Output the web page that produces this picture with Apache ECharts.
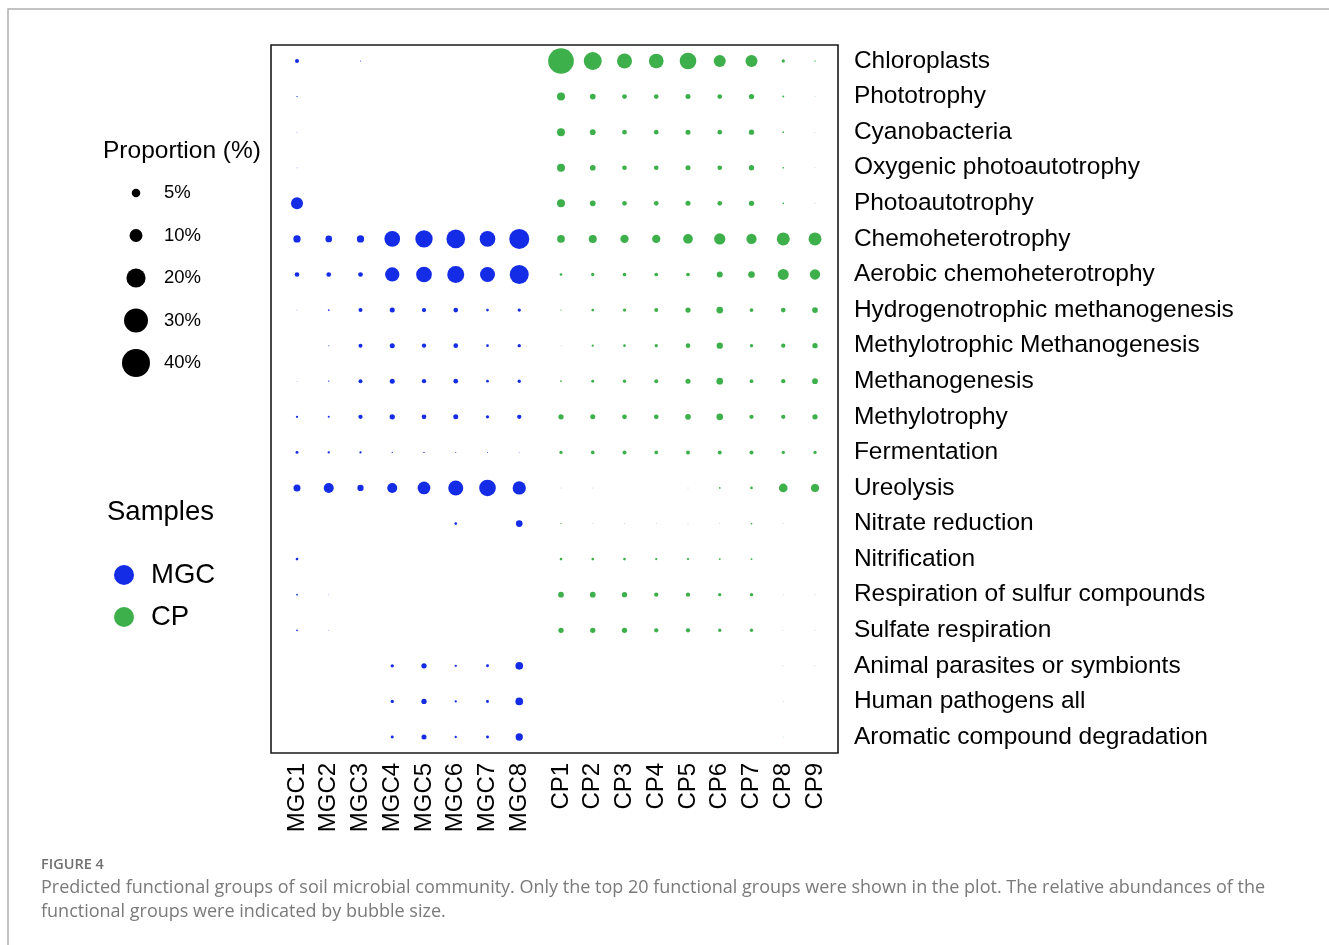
<!DOCTYPE html>
<html>
<head>
<meta charset="utf-8">
<script src="https://cdn.jsdelivr.net/npm/echarts@6/dist/echarts.min.js"></script>
<style>
html,body{margin:0;padding:0;background:#fff;}
#chart{width:1329px;height:945px;}
</style>
</head>
<body>
<div id="chart"></div>
<script>
// ---------- DATA ----------
const functions = [
  'Chloroplasts', 'Phototrophy', 'Cyanobacteria', 'Oxygenic photoautotrophy',
  'Photoautotrophy', 'Chemoheterotrophy', 'Aerobic chemoheterotrophy',
  'Hydrogenotrophic methanogenesis', 'Methylotrophic Methanogenesis', 'Methanogenesis',
  'Methylotrophy', 'Fermentation', 'Ureolysis', 'Nitrate reduction', 'Nitrification',
  'Respiration of sulfur compounds', 'Sulfate respiration', 'Animal parasites or symbionts',
  'Human pathogens all', 'Aromatic compound degradation'
];
const mgcSamples = ['MGC1','MGC2','MGC3','MGC4','MGC5','MGC6','MGC7','MGC8'];
const cpSamples = ['CP1','CP2','CP3','CP4','CP5','CP6','CP7','CP8','CP9'];

// Proportion (%) per functional group (rows follow `functions`), MGC samples
const mgcValues = [
  [1.67, 0, 0.44, 0, 0, 0, 0, 0],
  [0.53, 0, 0, 0, 0, 0, 0, 0],
  [0.3, 0, 0, 0, 0, 0, 0, 0],
  [0.3, 0, 0, 0, 0, 0, 0, 0],
  [8.83, 0, 0, 0, 0, 0, 0, 0],
  [3.94, 3.46, 3.94, 14.0, 16.7, 19.1, 14.0, 21.6],
  [2.07, 2.07, 2.07, 11.9, 14.0, 16.2, 12.96, 19.7],
  [0.3, 0.66, 1.67, 2.26, 1.84, 2.07, 1.04, 1.32],
  [0, 0.44, 1.67, 2.26, 1.84, 2.07, 1.04, 1.32],
  [0.3, 0.53, 1.67, 2.26, 1.84, 2.07, 1.04, 1.32],
  [0.88, 0.76, 1.84, 2.45, 2.07, 2.26, 1.32, 1.84],
  [1.17, 0.88, 0.88, 0.53, 0.53, 0.44, 0.44, 0.3],
  [3.70, 6.51, 3.15, 6.51, 9.72, 12.96, 15.6, 10.5],
  [0, 0, 0, 0, 0, 1.04, 0, 3.46],
  [1.04, 0, 0, 0, 0, 0, 0, 0],
  [0.66, 0.3, 0, 0, 0, 0, 0, 0],
  [0.66, 0.3, 0, 0, 0, 0, 0, 0],
  [0, 0, 0, 1.32, 2.45, 0.88, 1.17, 4.28],
  [0, 0, 0, 1.32, 2.45, 0.88, 1.17, 4.28],
  [0, 0, 0, 1.17, 2.26, 0.88, 1.17, 3.94]
];
// Proportion (%) per functional group, CP samples
const cpValues = [
  [34.1, 17.9, 13.0, 12.5, 15.6, 8.8, 8.8, 1.32, 0.55],
  [4.55, 2.72, 2.07, 2.07, 2.26, 2.07, 2.45, 0.76, 0.3],
  [4.55, 2.72, 2.07, 2.07, 2.26, 2.07, 2.45, 0.66, 0.3],
  [4.55, 2.72, 2.07, 2.07, 2.26, 2.07, 2.45, 0.66, 0.3],
  [4.55, 2.72, 2.07, 2.07, 2.26, 2.07, 2.45, 0.66, 0.3],
  [4.28, 4.55, 4.82, 4.82, 6.19, 7.97, 6.83, 10.1, 10.1],
  [1.04, 1.32, 1.51, 1.51, 1.51, 2.93, 3.46, 7.62, 6.83],
  [0.53, 1.04, 1.32, 1.67, 2.45, 3.46, 1.51, 2.07, 2.72],
  [0.3, 0.88, 1.04, 1.32, 2.07, 3.15, 1.32, 1.84, 2.45],
  [0.66, 1.17, 1.32, 1.67, 2.26, 3.46, 1.51, 1.84, 2.72],
  [2.45, 2.26, 2.07, 2.07, 2.72, 3.46, 1.84, 1.84, 2.45],
  [1.32, 1.51, 1.67, 1.51, 1.67, 1.67, 1.67, 1.32, 1.32],
  [0.3, 0.3, 0, 0, 0.3, 0.66, 1.04, 5.19, 4.55],
  [0.53, 0.3, 0.3, 0.3, 0.3, 0.3, 0.66, 0.3, 0],
  [1.04, 1.04, 1.04, 0.88, 0.88, 0.76, 0.76, 0, 0],
  [2.72, 2.72, 2.45, 1.84, 1.84, 1.32, 1.32, 0.3, 0.3],
  [2.45, 2.45, 2.45, 1.84, 1.84, 1.32, 1.32, 0.3, 0.3],
  [0, 0, 0, 0, 0, 0, 0, 0.3, 0.3],
  [0, 0, 0, 0, 0, 0, 0, 0.3, 0],
  [0, 0, 0, 0, 0, 0, 0, 0.3, 0]
];
const sizeLegendValues = [5, 10, 20, 30, 40];
const sizeLegendLabels = ['5%', '10%', '20%', '30%', '40%'];
const captionTitle = 'FIGURE 4';
const captionLines = [
  'Predicted functional groups of soil microbial community. Only the top 20 functional groups were shown in the plot. The relative abundances of the',
  'functional groups were indicated by bubble size.'
];

// ---------- RENDER ----------
const FONT = '"Liberation Sans", Arial, Helvetica, sans-serif';
const CAPFONT = '"Open Sans", sans-serif';
const BLUE = '#152ce6';
const GREEN = '#3eb04b';

function diam(p) { return 4.77 * Math.sqrt(p) - 2.17; }
function symSize(p) { return p > 0 ? Math.max(1, diam(p)) : 0; }

function buildData(values, samples) {
  const out = [];
  values.forEach((row, i) => {
    row.forEach((v, j) => {
      if (v > 0) {
        const d = diam(v);
        out.push({
          value: [samples[j], functions[i], v],
          itemStyle: { opacity: d < 1 ? Math.max(0.3, d) : 1 }
        });
      }
    });
  });
  return out;
}

const colW = 31.75;
const rowH = 35.58;
const gridTop = 61 - rowH / 2;
const gridH = rowH * functions.length;
const gA = { left: 297 - colW / 2, width: colW * mgcSamples.length };
const gB = { left: 561 - colW / 2, width: colW * cpSamples.length };

const xLabel = { rotate: 90, fontSize: 24, color: '#000', fontFamily: FONT, margin: 8 };

const chart = echarts.init(document.getElementById('chart'), null, { renderer: 'canvas' });
chart.setOption({
  animation: false,
  backgroundColor: '#fff',
  textStyle: { fontFamily: FONT },
  title: [
    { text: 'Proportion (%)', left: 103, top: 139, padding: 0,
      textStyle: { fontSize: 24.5, fontWeight: 'normal', color: '#000', fontFamily: FONT } },
    { text: 'Samples', left: 107, top: 498, padding: 0,
      textStyle: { fontSize: 27.5, fontWeight: 'normal', color: '#000', fontFamily: FONT } }
  ],
  legend: {
    data: ['MGC', 'CP'],
    orient: 'vertical',
    left: 114, top: 561,
    padding: 0,
    itemGap: 14,
    itemWidth: 44, itemHeight: 20,
    icon: 'circle',
    itemStyle: { opacity: 1 },
    textStyle: { fontSize: 27.5, color: '#000', fontFamily: FONT, padding: 0 },
    selectedMode: false
  },
  grid: [
    { left: gA.left, width: gA.width, top: gridTop, height: gridH, containLabel: false },
    { left: gB.left, width: gB.width, top: gridTop, height: gridH, containLabel: false },
    { left: 126, width: 20, top: 193 - 21.25, height: 42.5 * sizeLegendValues.length, containLabel: false }
  ],
  xAxis: [
    { type: 'category', gridIndex: 0, data: mgcSamples, position: 'bottom',
      axisLine: { show: false }, axisTick: { show: false }, splitLine: { show: false },
      axisLabel: xLabel },
    { type: 'category', gridIndex: 1, data: cpSamples, position: 'bottom',
      axisLine: { show: false }, axisTick: { show: false }, splitLine: { show: false },
      axisLabel: xLabel },
    { type: 'category', gridIndex: 2, data: ['size'], show: false }
  ],
  yAxis: [
    { type: 'category', gridIndex: 0, data: functions, inverse: true, show: false },
    { type: 'category', gridIndex: 1, data: functions, inverse: true, position: 'right',
      axisLine: { show: false }, axisTick: { show: false }, splitLine: { show: false },
      axisLabel: { fontSize: 24.5, color: '#000', fontFamily: FONT, margin: 23, align: 'left',
                   padding: [2, 0, 0, 0] } },
    { type: 'category', gridIndex: 2, data: sizeLegendLabels, inverse: true, position: 'right',
      axisLine: { show: false }, axisTick: { show: false }, splitLine: { show: false },
      axisLabel: { fontSize: 18.5, color: '#000', fontFamily: FONT, margin: 18, align: 'left' } }
  ],
  series: [
    { name: 'MGC', type: 'scatter', xAxisIndex: 0, yAxisIndex: 0,
      data: buildData(mgcValues, mgcSamples),
      symbolSize: v => symSize(v[2]),
      itemStyle: { color: BLUE, opacity: 1 } },
    { name: 'CP', type: 'scatter', xAxisIndex: 1, yAxisIndex: 1,
      data: buildData(cpValues, cpSamples),
      symbolSize: v => symSize(v[2]),
      itemStyle: { color: GREEN, opacity: 1 } },
    { name: 'size', type: 'scatter', xAxisIndex: 2, yAxisIndex: 2,
      data: sizeLegendValues.map((v, i) => ['size', sizeLegendLabels[i], v]),
      symbolSize: v => symSize(v[2]),
      itemStyle: { color: '#000', opacity: 1 } }
  ],
  graphic: [
    { type: 'rect', silent: true, z: -1,
      shape: { x: 8, y: 9, width: 1400, height: 1000 },
      style: { fill: 'none', stroke: '#b0b0b0', lineWidth: 1.5 } },
    { type: 'rect', silent: true, z: 10,
      shape: { x: 271, y: 45, width: 567, height: 708 },
      style: { fill: 'none', stroke: '#1a1a1a', lineWidth: 1.6 } },
    { type: 'text', left: 41, top: 857,
      style: { text: captionTitle, fontSize: 14.5, fontWeight: 600, fill: '#707070', fontFamily: CAPFONT } },
    { type: 'text', left: 41, top: 879,
      style: { text: captionLines[0], fontSize: 18, fill: '#7a7a7a', fontFamily: CAPFONT } },
    { type: 'text', left: 41, top: 903,
      style: { text: captionLines[1], fontSize: 18, fill: '#7a7a7a', fontFamily: CAPFONT } }
  ]
});
</script>
</body>
</html>
